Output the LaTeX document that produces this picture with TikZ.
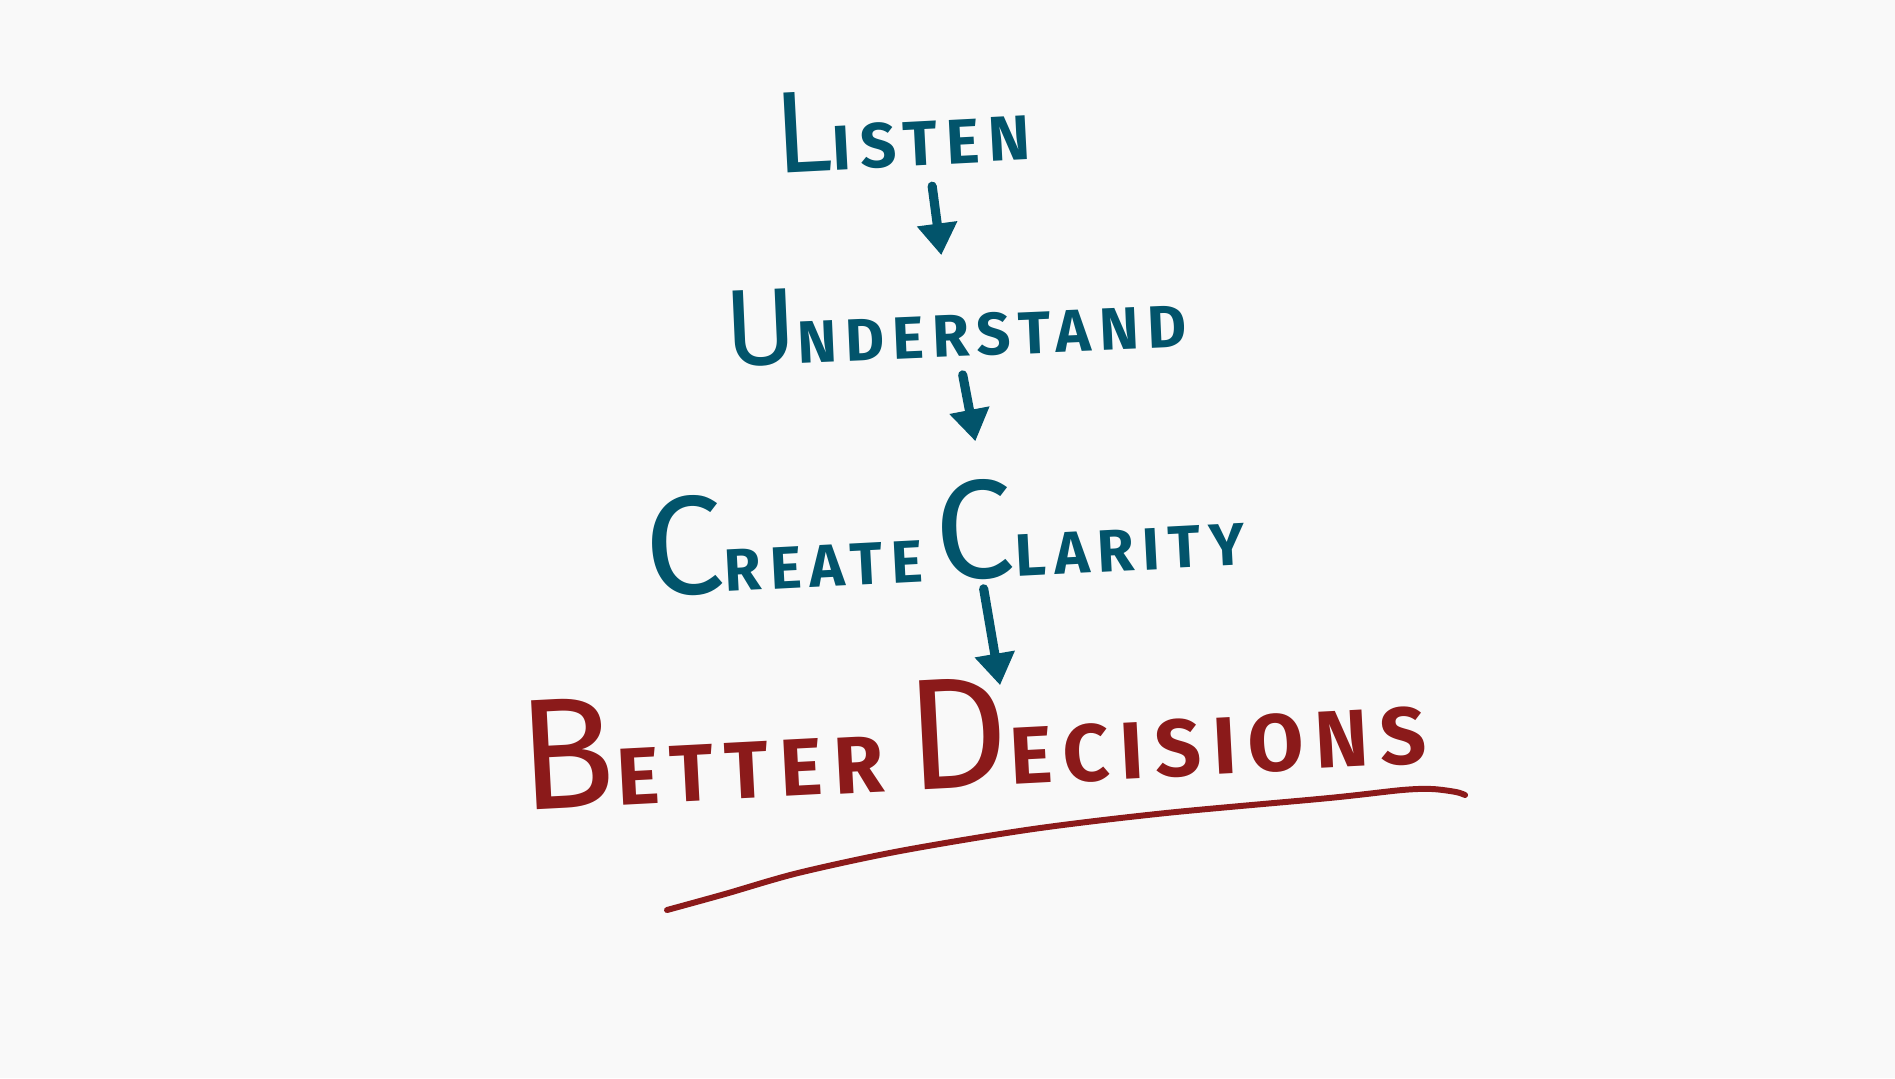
\documentclass[tikz,border=0pt]{standalone}
\usepackage{fontspec}
\setsansfont{Fira Sans}
\usetikzlibrary{arrows.meta,calc}
\definecolor{ink}{HTML}{02546B}
\definecolor{redink}{HTML}{8B1A1A}
\definecolor{paper}{HTML}{F9F9F9}
% big first letter, smaller caps after it
\newcommand{\capword}[4]{{\fontsize{#1}{#1}\selectfont\mdseries #3}{\fontsize{#2}{#2}\selectfont\bfseries\addfontfeature{LetterSpace=14}#4}}
\begin{document}
\begin{tikzpicture}[x=0.01cm,y=-0.01cm,
	word/.style={inner sep=0pt,font=\sffamily},
	flow/.style={ink,line width=2.6pt,line cap=round,-{Triangle[length=9pt,width=11pt]}}]
		\fill[paper] (0,0) rectangle (1895,1078);
		
		\node[word,text=ink,rotate=3] (listen) at (902,127) {\capword{33}{18}{L}{ISTEN}};
		\node[word,text=ink,rotate=2.5] (understand) at (955,320) {\capword{31}{17}{U}{NDERSTAND}};
		\node[word,text=ink,rotate=3] (clarity) at (944,532) {\capword{40}{17}{C}{REATE}\hspace{0.4em}\capword{40}{17}{C}{LARITY}};
		\node[word,text=redink,rotate=3] (decisions) at (972,733) {\capword{45}{23}{B}{ETTER}\hspace{0.7em}\capword{45}{23}{D}{ECISIONS}};
		
		\draw[flow] ($(listen.south)+(28,18)$) -- ($(understand.north)+(-12,-26)$);
		\draw[flow] ($(understand.south)+(6,16)$) -- ($(clarity.north)+(34,-40)$);
		\draw[flow] ($(clarity.south)+(37,6)$) -- ($(decisions.north)+(31,8)$);
		
		\draw[redink,line width=1.7pt,line cap=round] plot[smooth] coordinates {(667,910) (725,894) (798,873) (900,851) (1033,829) (1166,813) (1329,798) (1402,790) (1432,789) (1456,792) (1465,795)};
\end{tikzpicture}
\end{document}
